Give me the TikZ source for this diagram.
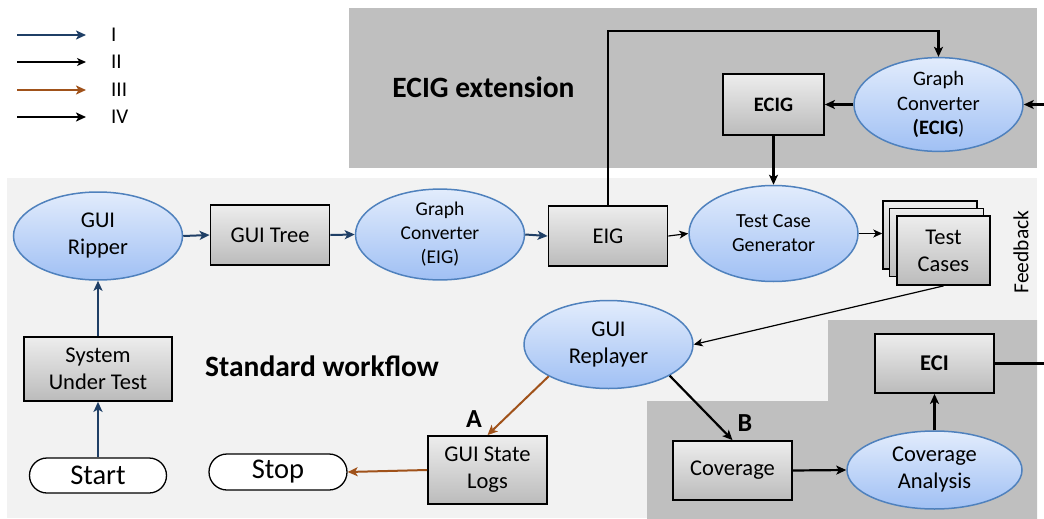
\documentclass[tikz,border=0pt]{standalone}
\usepackage{fontspec}
\setmainfont{Carlito}
\usetikzlibrary{arrows.meta,shapes.geometric,shapes.misc}
\definecolor{bgA}{HTML}{F2F2F2}
\definecolor{bgB}{HTML}{BFBFBF}
\definecolor{arrI}{HTML}{1F3F66}
\definecolor{arrIII}{HTML}{A0521A}
\definecolor{ellTop}{HTML}{E2ECFC}
\definecolor{ellBot}{HTML}{A0C0F4}
\definecolor{ellLine}{HTML}{4F81BD}
\definecolor{boxTop}{HTML}{EDEDED}
\definecolor{boxBot}{HTML}{BBBBBB}
\begin{document}
\begin{tikzpicture}[x=1pt,y=-1pt,
  ell/.style={ellipse, draw=ellLine, line width=1.5pt, top color=ellTop, bottom color=ellBot,
    inner sep=0pt, align=center, minimum width=169pt, minimum height=88pt},
  bx/.style={rectangle, draw=black, line width=1.8pt, top color=boxTop, bottom color=boxBot,
    inner sep=0pt, align=center, minimum width=119pt, minimum height=60pt},
  term/.style={rounded rectangle, draw=black, line width=1.3pt, fill=white, inner sep=0pt,
    minimum width=137pt, minimum height=35pt, font={\fontsize{28.5}{32}\selectfont}},
  fA/.style={font={\fontsize{22.5}{27}\selectfont}},
  fB/.style={font={\fontsize{20}{24}\selectfont}},
  fBold/.style={font={\fontsize{29.5}{33}\selectfont\bfseries}},
  fLab/.style={font={\fontsize{26}{30}\selectfont\bfseries}},
  tip/.style={-{Stealth[length=10pt,width=9pt,inset=2.5pt]}},
  aI/.style={draw=arrI, line width=2pt, tip},
  aII/.style={draw=black, line width=1.2pt, -{Stealth[length=9pt,width=8pt,inset=2.5pt]}},
  aIII/.style={draw=arrIII, line width=2pt, tip},
  aIV/.style={draw=black, line width=2.2pt, tip},
  lineIV/.style={draw=black, line width=2.2pt}
]
\useasboundingbox (0,0) rectangle (1044,519);
% backgrounds
\fill[bgA] (7,178) rectangle (1037,518);
\fill[bgB] (349,8) rectangle (1037,168);
\fill[bgB] (828,320) -- (1037,320) -- (1037,519) -- (647,519) -- (647,401) -- (828,401) -- cycle;

% legend
\coordinate (l1a) at (17,35);  \coordinate (l1b) at (86,35);
\coordinate (l2a) at (17,62);  \coordinate (l2b) at (86,62);
\coordinate (l3a) at (17,90);  \coordinate (l3b) at (86,90);
\coordinate (l4a) at (17,117); \coordinate (l4b) at (86,117);
\draw[aI, line width=2.5pt] (l1a) -- (l1b);
\draw[aII, line width=1.4pt] (l2a) -- (l2b);
\draw[aIII, line width=2.5pt] (l3a) -- (l3b);
\draw[aIV] (l4a) -- (l4b);
\node[anchor=west, inner sep=0pt, font={\fontsize{21}{24}\selectfont}] (t1) at (111,35) {I};
\node[anchor=west, inner sep=0pt, font={\fontsize{21}{24}\selectfont}] (t2) at (111,62) {II};
\node[anchor=west, inner sep=0pt, font={\fontsize{21}{24}\selectfont}] (t3) at (111,90) {III};
\node[anchor=west, inner sep=0pt, font={\fontsize{21}{24}\selectfont}] (t4) at (111,117) {IV};

% titles
\node[fBold] (ext) at (483.5,87) {ECIG extension};
\node[fBold] (std) at (322,366) {Standard workflow};
\node[fLab] (la) at (474,419) {A};
\node[fLab] (lb) at (745,423) {B};

% nodes
\node[ell, fA] (rip) at (98,236) {GUI\\Ripper};
\node[bx, fA] (tree) at (270,235) {GUI Tree};
\node[ell, minimum height=89pt, font={\fontsize{19.5}{24}\selectfont}] (gce) at (440,234.5) {Graph\\Converter\\(EIG)};
\node[bx, fA] (eig) at (608,236) {EIG};
\node[ell, fB, minimum height=96pt] (tcg) at (773.5,233.5) {Test Case\\Generator};
\node[bx, line width=1.5pt, minimum width=94pt, minimum height=68pt] (tc3) at (930,235) {};
\node[bx, line width=1.5pt, minimum width=94pt, minimum height=68pt] (tc2) at (936.5,242.5) {};
\node[bx, fA, line width=1.8pt, minimum width=93pt, minimum height=69pt] (tc1) at (943.5,250.5) {Test\\Cases};
\node[rotate=90, font={\fontsize{21.5}{24}\selectfont}] (fb) at (1021,252) {Feedback};

\node[ell, fA] (rep) at (608.5,344.5) {GUI\\Replayer};
\node[bx, fA, minimum height=68pt] (logs) at (487.5,470) {GUI State\\Logs};
\node[term, minimum width=138pt, minimum height=36pt] (stop) at (278,472) {Stop};
\node[term] (start) at (98,475.5) {Start};
\node[bx, fA, minimum width=148pt, minimum height=64pt] (sut) at (98,369) {System\\Under Test};

\node[bx, fA, minimum height=59pt] (cov) at (732.5,470.5) {Coverage};
\node[ell, fA, minimum width=175pt, minimum height=78pt] (ca) at (934.5,470) {Coverage\\Analysis};
\node[bx, minimum height=59pt, font={\fontsize{22.5}{27}\selectfont\bfseries}] (eci) at (934.5,363.5) {ECI};

\node[bx, minimum width=101pt, minimum height=61pt, font={\fontsize{20.5}{24}\selectfont\bfseries}] (ecig) at (773.5,104.5) {ECIG};
\node[ell, minimum height=89pt, font={\fontsize{20.5}{24.5}\selectfont}] (gcc) at (938.5,104.5) {Graph\\Converter\\{\bfseries(ECIG})};

% connectors
\coordinate (eigtop) at (608,31);
\coordinate (gccR) at (1044,104.5);
\coordinate (eciR) at (1044,363.5);

\draw[aI] (start.north) -- (sut.south);
\draw[aI] (sut.north) -- (rip.south);
\draw[aI] (rip.east) -- (tree.west);
\draw[aI] (tree.east) -- (gce.west);
\draw[aI] (gce.east) -- (eig.west);
\draw[aII] (eig.east) -- (tcg.west);
\draw[aII] (tcg.east) -- (tcg.east -| tc3.west);
\draw[aII] (tc1.south) -- (rep.east);
\draw[aIII] (rep.208) -- (logs.north);
\draw[aIII] (logs.west) -- (stop.east);
\draw[aIV] (rep.-27) -- (cov.north);
\draw[aIV] (cov.east) -- (ca.west);
\draw[aIV] (ca.north) -- (eci.south);
\draw[lineIV] (eci.east) -- (eciR);
\draw[aIV] (gccR) -- (gcc.east);
\draw[aIV] (gcc.west) -- (ecig.east);
\draw[aIV] (ecig.south) -- (tcg.north);
\draw[aIV] (eig.north) -- (eigtop) -| (gcc.north);
\end{tikzpicture}
\end{document}
